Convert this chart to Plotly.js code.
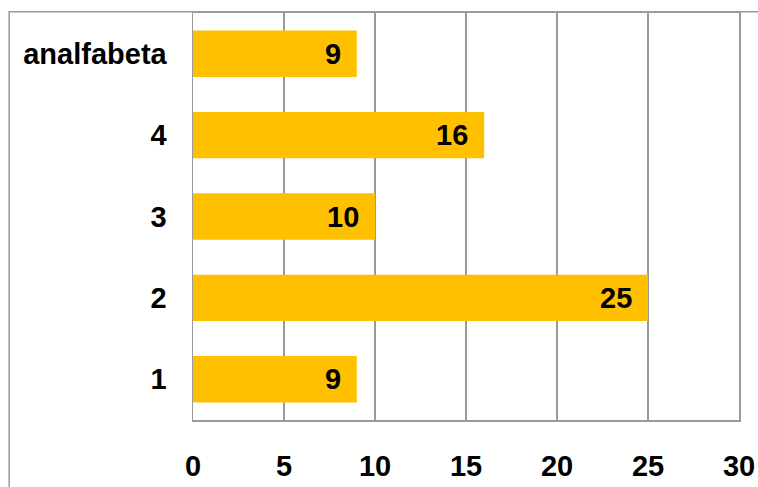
<!DOCTYPE html>
<html>
<head>
<meta charset="utf-8">
<script src="https://cdn.plot.ly/plotly-3.0.1.min.js"></script>
<style>
  html, body { margin: 0; padding: 0; background: #fff; }
  #chart { width: 758px; height: 487px; }
</style>
</head>
<body>
<div id="chart"></div>
<script>
const categories = ["1", "2", "3", "4", "analfabeta"];
const values = [9, 25, 10, 16, 9];
const xTicks = [0, 5, 10, 15, 20, 25, 30];

const barColor = "#FFC000";
const gridColor = "#9a9a9a";
const fontFam = "Liberation Sans, Arial, sans-serif";
const fontSize = 29;

const trace = {
  type: "bar",
  orientation: "h",
  x: values,
  y: categories,
  marker: { color: barColor, line: { width: 0 } },
  hoverinfo: "none"
};

const annotations = values.map((v, i) => ({
  x: v,
  y: i,
  xref: "x",
  yref: "y",
  text: String(v),
  showarrow: false,
  xanchor: "right",
  yanchor: "middle",
  xshift: -14,
  font: { family: fontFam, size: fontSize, color: "#000", weight: "bold" }
}));

const layout = {
  width: 758,
  height: 487,
  margin: { l: 193, r: 19, t: 13, b: 67, pad: 0 },
  paper_bgcolor: "#fff",
  plot_bgcolor: "#fff",
  showlegend: false,
  bargap: 0.43,
  xaxis: {
    range: [0, 30],
    tickvals: xTicks,
    ticktext: xTicks.map(String),
    showgrid: true,
    gridcolor: gridColor,
    gridwidth: 1.5,
    zeroline: false,
    showline: true,
    linecolor: gridColor,
    linewidth: 1.5,
    mirror: true,
    ticks: "outside",
    ticklen: 20,
    tickcolor: "rgba(0,0,0,0)",
    tickfont: { family: fontFam, size: fontSize, color: "#000", weight: "bold" },
    fixedrange: true
  },
  yaxis: {
    type: "category",
    categoryorder: "array",
    categoryarray: categories,
    range: [-0.5, 4.5],
    showgrid: false,
    zeroline: false,
    showline: true,
    linecolor: gridColor,
    linewidth: 1.5,
    mirror: true,
    ticks: "outside",
    ticklen: 19,
    tickcolor: "rgba(0,0,0,0)",
    tickfont: { family: fontFam, size: fontSize, color: "#000", weight: "bold" },
    fixedrange: true
  },
  annotations: annotations,
  shapes: [{
    type: "path",
    xref: "paper",
    yref: "paper",
    path: "M -0.3367 -0.3 L -0.3367 1.0032 L 1.1 1.0032",
    line: { color: gridColor, width: 1.5 },
    layer: "above"
  }]
};

Plotly.newPlot("chart", [trace], layout, { staticPlot: true, displayModeBar: false });
</script>
</body>
</html>
